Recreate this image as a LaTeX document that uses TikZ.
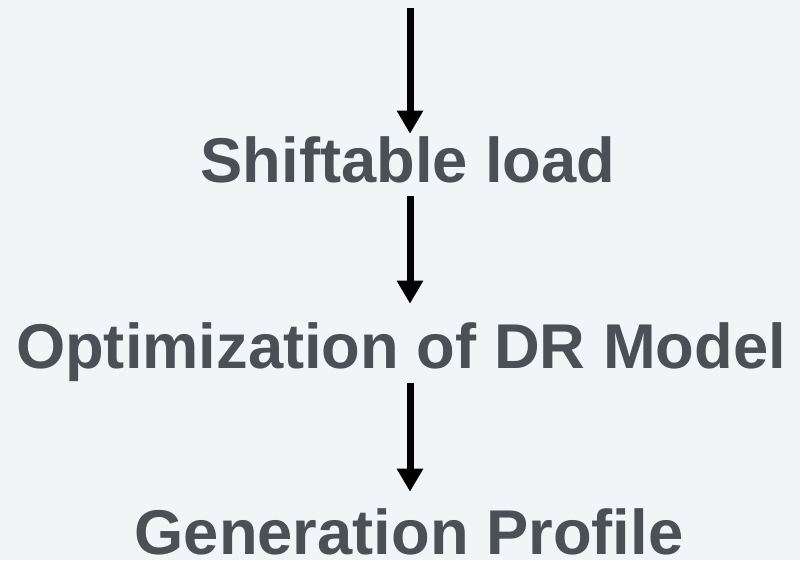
\documentclass[tikz,border=0pt]{standalone}
\usepackage{fontspec}
\setmainfont{Liberation Sans}
\usetikzlibrary{arrows.meta}
\definecolor{bgpanel}{HTML}{F2F5F8}
\definecolor{labelgray}{HTML}{4B4F56}
\tikzset{
    steplabel/.style={font=\fontsize{45}{54}\bfseries\selectfont, text=labelgray,
        inner sep=0pt, anchor=base, text height=1.15cm, text depth=0.33cm},
    flowarrow/.style={line width=0.175cm, -{Triangle[width=0.625cm,length=0.575cm]}}
}
\begin{document}
\begin{tikzpicture}[x=0.025cm,y=-0.025cm]

    \fill[bgpanel] (0,0) rectangle (800,560);
    \useasboundingbox (0,0) rectangle (800,560);

    \coordinate (feed) at (410,8);
    \node[steplabel] (shift) at (408,182) {Shiftable load};
    \node[steplabel] (optim) at (401,368) {Optimization of DR Model};
    \node[steplabel, text depth=0pt] (gen) at (409,554) {Generation Profile};

    \draw[flowarrow, shorten >=0.05cm] (feed) -- (feed |- shift.north);
    \draw[flowarrow, shorten <=0.025cm, shorten >=0.45cm] (feed |- shift.south) -- (feed |- optim.north);
    \draw[flowarrow, shorten <=0.05cm, shorten >=0.4cm] (feed |- optim.south) -- (feed |- gen.north);

\end{tikzpicture}
\end{document}
